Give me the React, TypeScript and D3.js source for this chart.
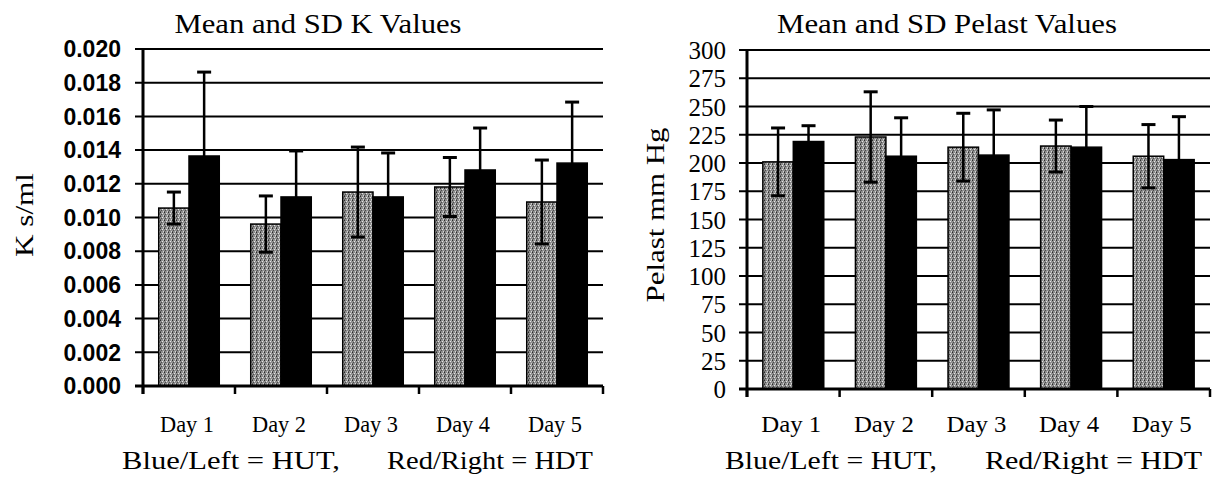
import React from "react";
import * as d3 from "d3";

const days = ["Day 1", "Day 2", "Day 3", "Day 4", "Day 5"];
const series = ["HUT", "HDT"];

const kHutMean = [0.01056, 0.00961, 0.01151, 0.01181, 0.01092];
const kHutSd = [0.00095, 0.00167, 0.00267, 0.00175, 0.00249];
const kHdtMean = [0.01365, 0.01122, 0.01122, 0.01282, 0.01323];
const kHdtSd = [0.00498, 0.00273, 0.00261, 0.00249, 0.00362];
const kTicks = [0, 0.002, 0.004, 0.006, 0.008, 0.01, 0.012, 0.014, 0.016, 0.018, 0.02];

const pHutMean = [201, 223, 214, 215, 206];
const pHutSd = [30, 40, 30, 23, 28];
const pHdtMean = [219, 206, 207, 214, 203];
const pHdtSd = [14, 34, 40, 36, 38];
const pTicks = [0, 25, 50, 75, 100, 125, 150, 175, 200, 225, 250, 275, 300];

const SERIF = "'Liberation Serif', 'DejaVu Serif', serif";
const SANS = "'Liberation Sans', Arial, sans-serif";

type PanelProps = {
  title: string;
  titleLen: number;
  yLabel: string;
  yLabelLen: number;
  hutMean: number[];
  hutSd: number[];
  hdtMean: number[];
  hdtSd: number[];
  ticks: number[];
  fmt: (v: number) => string;
  left: number;
  right: number;
  top: number;
  bottom: number;
  labelRight: number;
  tickFont: string;
  tickSize: number;
  tickWeight: string;
  yLabelX: number;
  titleX: number;
  footX: number;
  footLen: number;
  footX2: number;
  footLen2: number;
  dayLen: number;
};

function Panel(p: PanelProps) {
  const y = d3
    .scaleLinear()
    .domain([p.ticks[0], p.ticks[p.ticks.length - 1]])
    .range([p.bottom, p.top]);
  const x0 = d3.scaleBand<string>().domain(days).range([p.left, p.right]).paddingInner(0).paddingOuter(0);
  const x1 = d3.scaleBand<string>().domain(series).range([0, x0.bandwidth()]).paddingInner(0).paddingOuter(0.52);
  const bw = x1.bandwidth();
  const data = [
    { key: "HUT", mean: p.hutMean, sd: p.hutSd, fill: "url(#stipple)" },
    { key: "HDT", mean: p.hdtMean, sd: p.hdtSd, fill: "#000" },
  ];
  const boundaries = days.map((d) => x0(d) as number).concat([p.right]);
  return (
    <g>
      <text
        x={p.titleX - p.titleLen / 2}
        y={33}
        fontFamily={SERIF}
        fontSize={27}
        textLength={p.titleLen}
        lengthAdjust="spacingAndGlyphs"
        fill="#000"
      >
        {p.title}
      </text>
      {p.ticks.map((t) => (
        <line key={"g" + t} x1={p.left - 8} x2={p.right} y1={y(t)} y2={y(t)} stroke="#000" strokeWidth={2} />
      ))}
      {p.ticks.map((t) => (
        <text
          key={"t" + t}
          x={p.labelRight}
          y={y(t)}
          dy="0.36em"
          textAnchor="end"
          fontFamily={p.tickFont}
          fontSize={p.tickSize}
          fontWeight={p.tickWeight}
          fill="#000"
        >
          {p.fmt(t)}
        </text>
      ))}
      {data.map((s) =>
        days.map((d, i) => {
          const bx = (x0(d) as number) + (x1(s.key) as number);
          return (
            <rect
              key={s.key + d}
              x={bx}
              y={y(s.mean[i])}
              width={bw}
              height={p.bottom - y(s.mean[i])}
              fill={s.fill}
              stroke="#000"
              strokeWidth={1.5}
            />
          );
        })
      )}
      {data.map((s) =>
        days.map((d, i) => {
          const cx = (x0(d) as number) + (x1(s.key) as number) + bw / 2;
          const hi = y(s.mean[i] + s.sd[i]);
          const lo = y(s.mean[i] - s.sd[i]);
          return (
            <g key={"e" + s.key + d} stroke="#000" strokeWidth={2.5}>
              <line x1={cx} x2={cx} y1={hi} y2={lo} />
              <line x1={cx - 7} x2={cx + 7} y1={hi} y2={hi} strokeWidth={3} />
              <line x1={cx - 7} x2={cx + 7} y1={lo} y2={lo} strokeWidth={3} />
            </g>
          );
        })
      )}
      <line x1={p.left} x2={p.left} y1={p.top - 1} y2={p.bottom + 8} stroke="#000" strokeWidth={3} />
      <line x1={p.left - 8} x2={p.right} y1={p.bottom} y2={p.bottom} stroke="#000" strokeWidth={3} />
      {boundaries.map((b, i) => (
        <line key={"xt" + i} x1={b} x2={b} y1={p.bottom} y2={p.bottom + 8} stroke="#000" strokeWidth={2.5} />
      ))}
      {days.map((d) => (
        <text
          key={"xl" + d}
          x={(x0(d) as number) + x0.bandwidth() / 2 - 2 - p.dayLen / 2}
          y={432}
          fontFamily={SERIF}
          fontSize={23}
          textLength={p.dayLen}
          lengthAdjust="spacingAndGlyphs"
          fill="#000"
        >
          {d}
        </text>
      ))}
      <text
        transform={`translate(${p.yLabelX},${215 + p.yLabelLen / 2}) rotate(-90)`}
        fontFamily={SERIF}
        fontSize={26}
        textLength={p.yLabelLen}
        lengthAdjust="spacingAndGlyphs"
        fill="#000"
      >
        {p.yLabel}
      </text>
      <text
        x={p.footX}
        y={469}
        fontFamily={SERIF}
        fontSize={26}
        textLength={p.footLen}
        lengthAdjust="spacingAndGlyphs"
        fill="#000"
      >
        Blue/Left = HUT,
      </text>
      <text
        x={p.footX2}
        y={469}
        fontFamily={SERIF}
        fontSize={26}
        textLength={p.footLen2}
        lengthAdjust="spacingAndGlyphs"
        fill="#000"
      >
        Red/Right = HDT
      </text>
    </g>
  );
}

export default function App() {
  return (
    <svg
      width={1217}
      height={480}
      style={{ position: "absolute", left: 0, top: 0, background: "#fff" }}
    >
      <defs>
        <pattern id="stipple" width={4} height={4} patternUnits="userSpaceOnUse">
          <rect width={4} height={4} fill="#8e8e8e" />
          <rect x={0} y={0} width={1} height={1} fill="#2a2a2a" />
          <rect x={2} y={1} width={1} height={1} fill="#e6e6e6" />
          <rect x={1} y={2} width={1} height={1} fill="#4a4a4a" />
          <rect x={3} y={3} width={1} height={1} fill="#d4d4d4" />
          <rect x={3} y={0} width={1} height={1} fill="#b0b0b0" />
          <rect x={0} y={3} width={1} height={1} fill="#5a5a5a" />
        </pattern>
      </defs>
      <rect width={1217} height={480} fill="#fff" />
      <Panel
        title="Mean and SD K Values"
        titleLen={287}
        yLabel="K s/ml"
        yLabelLen={84}
        hutMean={kHutMean}
        hutSd={kHutSd}
        hdtMean={kHdtMean}
        hdtSd={kHdtSd}
        ticks={kTicks}
        fmt={(v) => d3.format(".3f")(v)}
        left={143}
        right={603}
        top={49}
        bottom={386}
        labelRight={121}
        tickFont={SANS}
        tickSize={23}
        tickWeight="bold"
        yLabelX={33}
        titleX={318}
        footX={122}
        footLen={218}
        footX2={387}
        footLen2={206}
        dayLen={54}
      />
      <Panel
        title="Mean and SD Pelast Values"
        titleLen={340}
        yLabel="Pelast mm Hg"
        yLabelLen={175}
        hutMean={pHutMean}
        hutSd={pHutSd}
        hdtMean={pHdtMean}
        hdtSd={pHdtSd}
        ticks={pTicks}
        fmt={(v) => String(v)}
        left={747}
        right={1210}
        top={50}
        bottom={389}
        labelRight={726}
        tickFont={SERIF}
        tickSize={25}
        tickWeight="normal"
        yLabelX={664}
        titleX={947}
        footX={725}
        footLen={212}
        footX2={985}
        footLen2={217}
        dayLen={60}
      />
    </svg>
  );
}
